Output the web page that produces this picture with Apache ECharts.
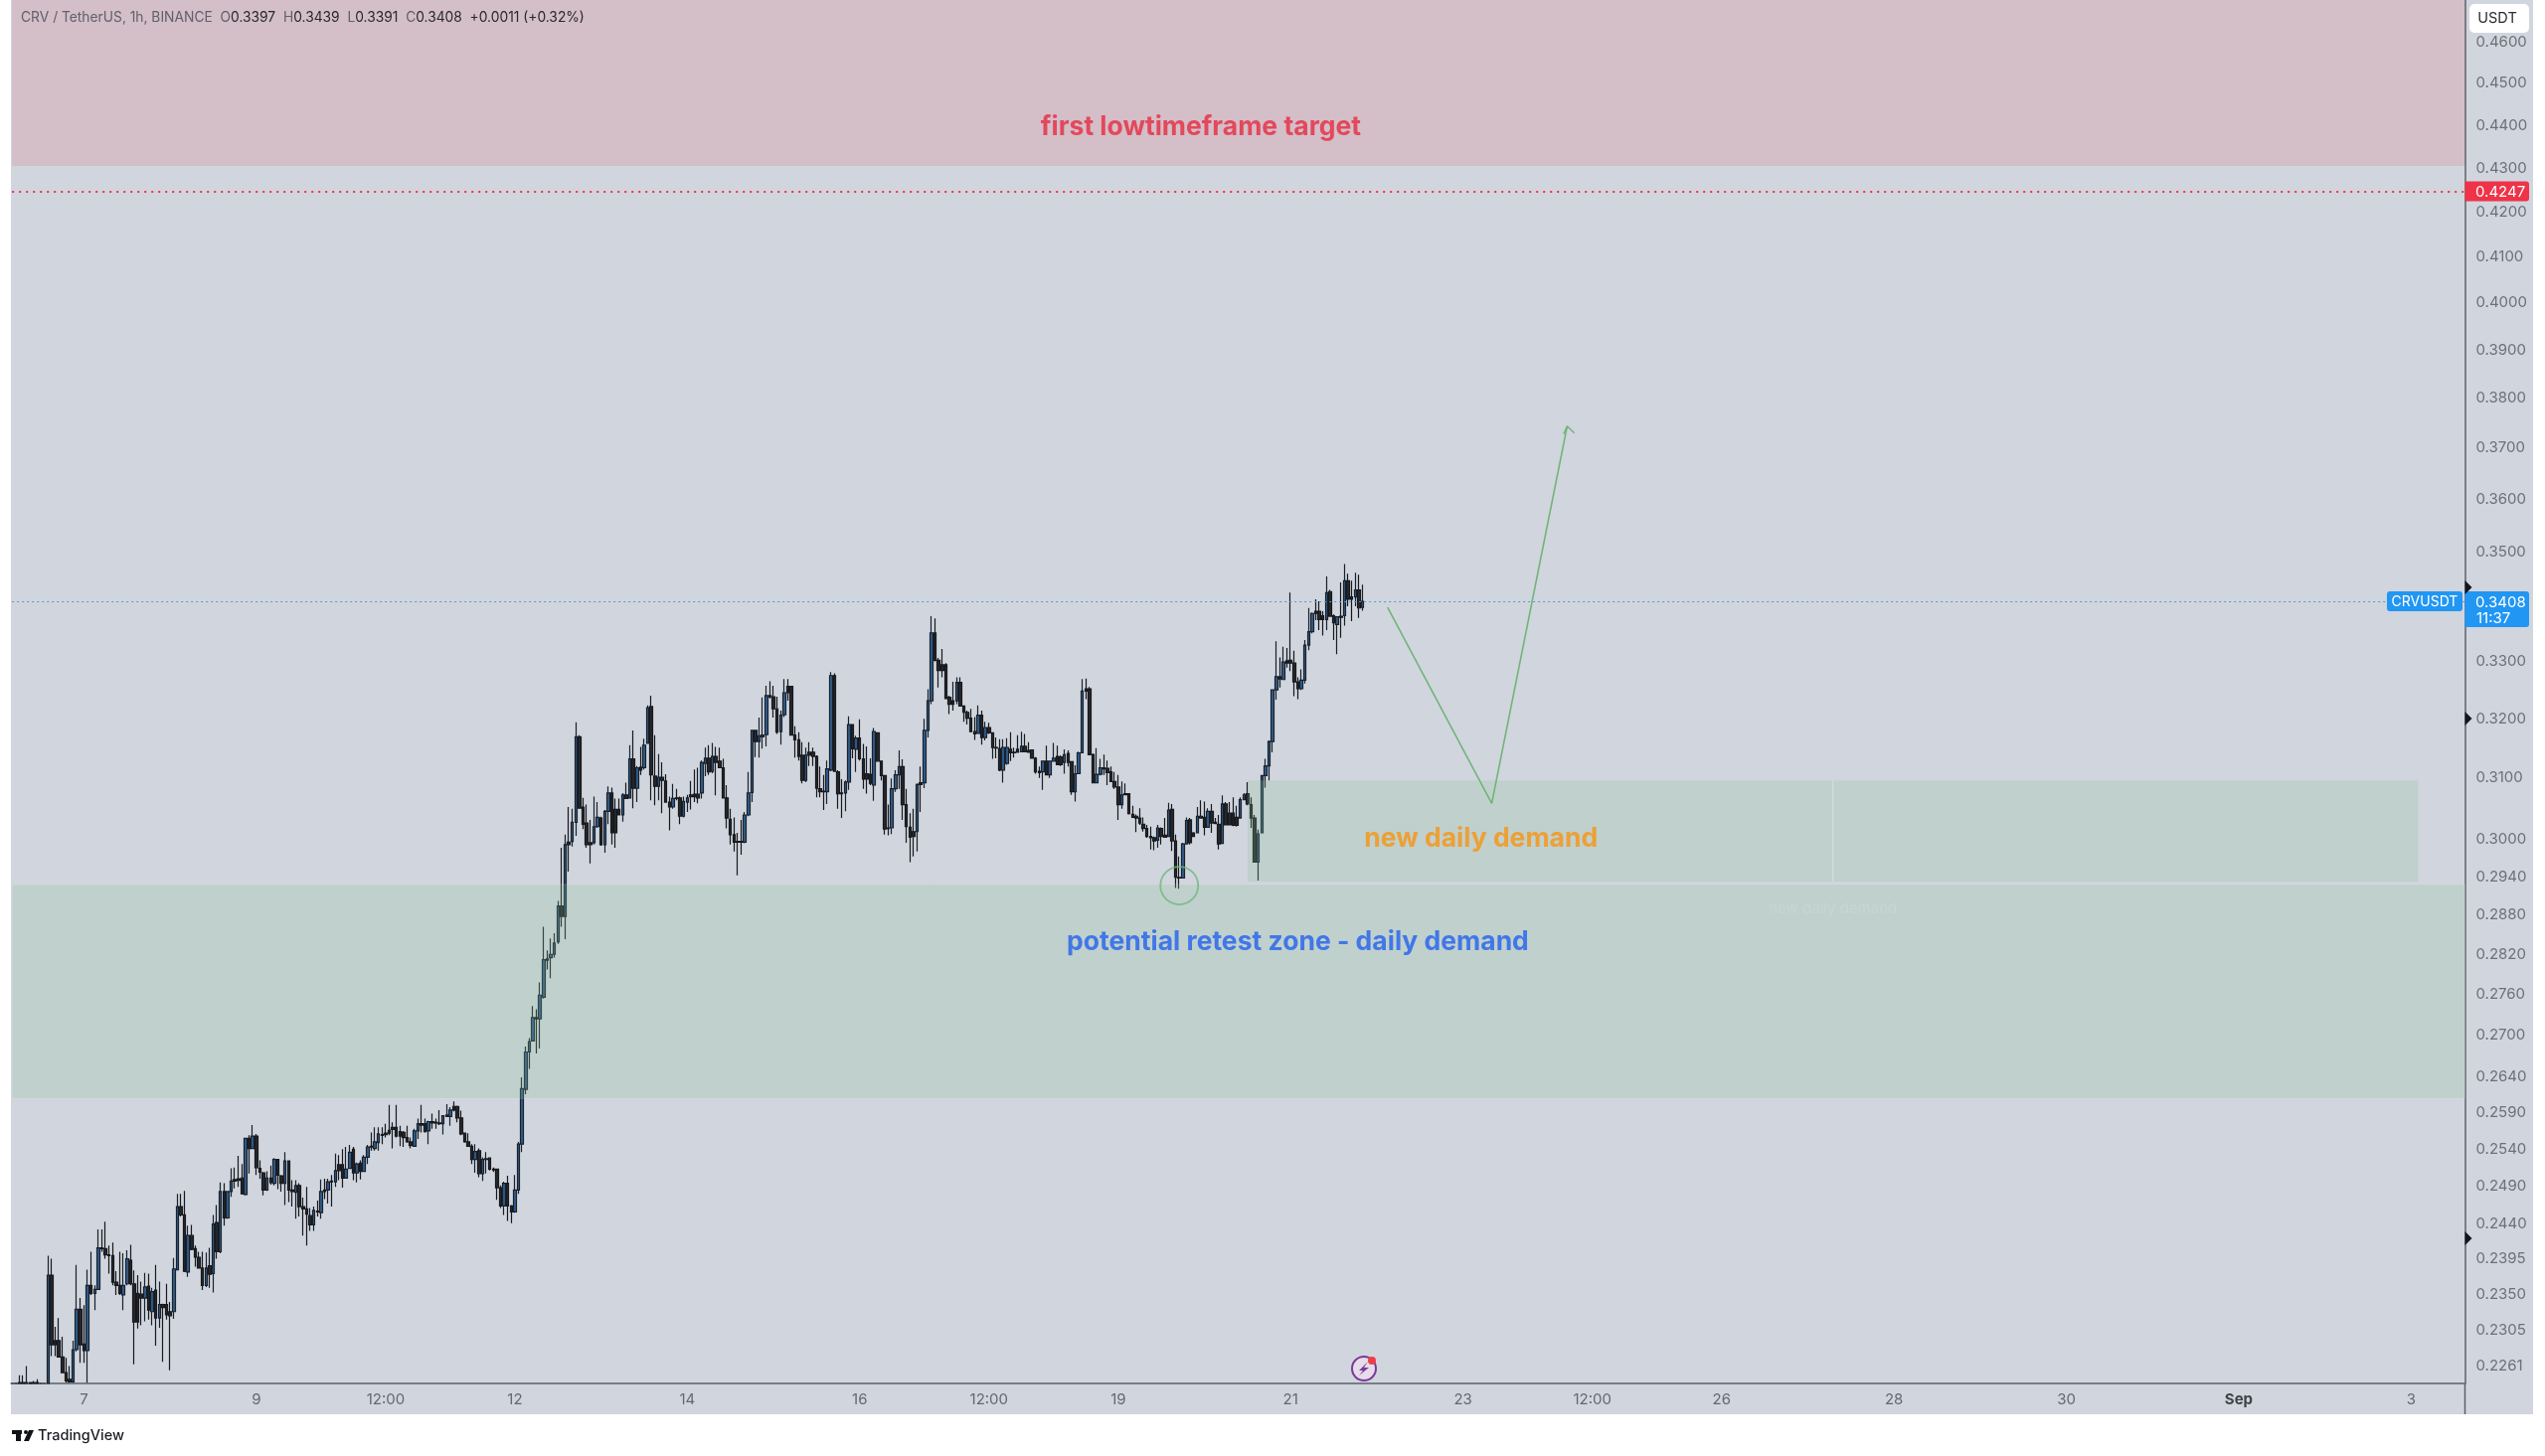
<!DOCTYPE html>
<html><head><meta charset="utf-8">
<style>html,body{margin:0;padding:0;background:#fff}#c{width:2560px;height:1465px}</style>
<script src="https://cdn.jsdelivr.net/npm/echarts@6/dist/echarts.min.js"></script>
</head><body><div id="c"></div>
<script>
// rows: [open, high, low, close] of the hourly candles, one list per calendar day
const aug06=[[.2240,.2240,.2240,.2240],[.2240,.2240,.2240,.2240],[.2240,.2250,.2240,.2241],[.2241,.2250,.2240,.2240],[.2240,.2261,.2240,.2241],[.2241,.2241,.2240,.2240],[.2240,.2243,.2240,.2241],[.2241,.2245,.2240,.2240],[.2240,.2240,.2240,.2240],[.2240,.2240,.2240,.2240],
[.2240,.2399,.2240,.2374],[.2374,.2395,.2273,.2287],[.2292,.2309,.2273,.2287],[.2292,.2320,.2272,.2272],[.2272,.2297,.2253,.2253],[.2253,.2271,.2241,.2243],[.2245,.2261,.2241,.2242],[.2242,.2292,.2241,.2281],[.2281,.2387,.2279,.2331],[.2331,.2345,.2265,.2287]];
const aug07=[[.2288,.2336,.2265,.2280],[.2280,.2381,.2241,.2361],[.2361,.2404,.2349,.2351],[.2351,.2361,.2330,.2356],[.2356,.2433,.2355,.2409],[.2409,.2433,.2404,.2408],[.2408,.2443,.2395,.2400],[.2400,.2412,.2376,.2399],[.2399,.2416,.2361,.2365],[.2365,.2379,.2349,.2361],[.2361,.2404,.2349,.2351],[.2349,.2402,.2330,.2361],[.2363,.2406,.2361,.2395],[.2393,.2413,.2361,.2363],[.2363,.2380,.2263,.2315],[.2351,.2374,.2307,.2315],[.2350,.2366,.2311,.2345],[.2345,.2377,.2316,.2359],[.2360,.2376,.2318,.2330],[.2328,.2358,.2311,.2353],[.2355,.2387,.2286,.2320],[.2320,.2366,.2308,.2337],[.2337,.2338,.2266,.2333],[.2337,.2363,.2318,.2324]];
const aug08=[[.2328,.2340,.2256,.2323],[.2328,.2396,.2319,.2382],[.2381,.2480,.2380,.2463],[.2463,.2480,.2450,.2452],[.2452,.2484,.2378,.2379],[.2378,.2438,.2372,.2425],[.2425,.2439,.2406,.2407],[.2408,.2412,.2385,.2397],[.2397,.2404,.2383,.2383],[.2383,.2404,.2355,.2361],[.2361,.2403,.2359,.2383],[.2386,.2409,.2358,.2375],[.2376,.2452,.2352,.2440],[.2442,.2465,.2395,.2404],[.2404,.2495,.2402,.2483],[.2483,.2494,.2438,.2448],[.2448,.2483,.2447,.2483],[.2483,.2514,.2476,.2497],[.2499,.2515,.2487,.2497],[.2500,.2531,.2489,.2498],[.2501,.2520,.2479,.2480],[.2479,.2555,.2478,.2555],[.2555,.2559,.2507,.2541],[.2541,.2573,.2540,.2558]];
const aug09=[[.2558,.2561,.2505,.2515],[.2514,.2525,.2500,.2509],[.2508,.2509,.2478,.2485],[.2485,.2510,.2484,.2501],[.2501,.2518,.2492,.2495],[.2494,.2528,.2491,.2526],[.2526,.2527,.2486,.2505],[.2504,.2505,.2483,.2494],[.2494,.2536,.2465,.2524],[.2524,.2525,.2469,.2485],[.2485,.2498,.2463,.2483],[.2482,.2498,.2447,.2491],[.2491,.2494,.2450,.2463],[.2463,.2475,.2425,.2460],[.2460,.2489,.2412,.2453],[.2451,.2461,.2431,.2439],[.2439,.2463,.2431,.2458],[.2457,.2471,.2450,.2456],[.2455,.2499,.2447,.2483],[.2485,.2500,.2473,.2483],[.2485,.2500,.2467,.2496],[.2497,.2505,.2463,.2496],[.2496,.2534,.2489,.2511],[.2519,.2532,.2498,.2511]];
const aug10=[[.2519,.2540,.2488,.2501],[.2501,.2543,.2500,.2513],[.2514,.2546,.2513,.2536],[.2540,.2543,.2498,.2508],[.2508,.2522,.2495,.2520],[.2521,.2525,.2499,.2510],[.2510,.2532,.2509,.2529],[.2529,.2546,.2520,.2543],[.2544,.2563,.2538,.2543],[.2541,.2570,.2538,.2550],[.2549,.2570,.2538,.2561],[.2560,.2570,.2547,.2559],[.2562,.2575,.2556,.2560],[.2566,.2601,.2559,.2562],[.2570,.2577,.2541,.2567],[.2570,.2601,.2556,.2558],[.2564,.2572,.2544,.2558],[.2563,.2565,.2543,.2556],[.2556,.2572,.2549,.2550],[.2550,.2556,.2541,.2545],[.2544,.2568,.2543,.2565],[.2565,.2582,.2554,.2575],[.2575,.2601,.2563,.2573],[.2575,.2582,.2563,.2564]];
const aug11=[[.2565,.2579,.2547,.2578],[.2578,.2589,.2568,.2576],[.2577,.2582,.2568,.2576],[.2576,.2594,.2573,.2575],[.2575,.2586,.2560,.2586],[.2585,.2602,.2584,.2587],[.2585,.2598,.2572,.2594],[.2599,.2606,.2592,.2594],[.2599,.2600,.2577,.2583],[.2583,.2593,.2559,.2561],[.2562,.2563,.2549,.2550],[.2550,.2562,.2543,.2544],[.2544,.2547,.2520,.2526],[.2526,.2547,.2508,.2537],[.2538,.2541,.2502,.2507],[.2507,.2529,.2497,.2526],[.2526,.2536,.2507,.2527],[.2528,.2529,.2511,.2513],[.2513,.2515,.2509,.2512],[.2513,.2513,.2472,.2488],[.2488,.2491,.2461,.2464],[.2464,.2496,.2452,.2494],[.2494,.2504,.2444,.2464],[.2464,.2465,.2441,.2456]];
const aug12=[[.2456,.2505,.2455,.2485],[.2485,.2550,.2480,.2547],[.2547,.2640,.2536,.2624],[.2623,.2684,.2616,.2676],[.2676,.2696,.2652,.2691],[.2692,.2743,.2691,.2726],[.2726,.2738,.2674,.2724],[.2724,.2778,.2681,.2759],[.2756,.2862,.2754,.2812],[.2813,.2826,.2797,.2811],[.2815,.2844,.2784,.2820],[.2820,.2852,.2815,.2837],[.2839,.2902,.2836,.2894],[.2894,.2986,.2862,.2878],[.2878,.3007,.2843,.2991],[.2995,.3052,.2948,.2991],[.2996,.3049,.2988,.3027],[.3027,.3194,.3005,.3169],[.3169,.3172,.3049,.3050],[.3052,.3067,.3016,.3024],[.3026,.3056,.2986,.2991],[.2994,.3031,.2961,.2991],[.2994,.3069,.2991,.3020],[.3020,.3060,.3018,.3035]];
const aug13=[[.3034,.3036,.2989,.2991],[.2991,.3047,.2978,.3045],[.3045,.3086,.3024,.3075],[.3075,.3084,.2991,.3010],[.3048,.3066,.2986,.3010],[.3048,.3066,.3038,.3039],[.3039,.3075,.3028,.3072],[.3072,.3092,.3065,.3066],[.3067,.3155,.3066,.3132],[.3132,.3180,.3050,.3083],[.3083,.3120,.3060,.3117],[.3118,.3152,.3105,.3113],[.3117,.3166,.3114,.3155],[.3158,.3223,.3157,.3219],[.3221,.3240,.3063,.3105],[.3103,.3172,.3055,.3086],[.3086,.3140,.3063,.3101],[.3101,.3126,.3042,.3096],[.3095,.3106,.3059,.3060],[.3060,.3069,.3014,.3052],[.3052,.3090,.3049,.3066],[.3067,.3082,.3063,.3066],[.3067,.3069,.3024,.3037],[.3037,.3069,.3035,.3061]];
const aug14=[[.3060,.3072,.3044,.3067],[.3072,.3095,.3048,.3069],[.3073,.3114,.3060,.3069],[.3073,.3117,.3058,.3067],[.3075,.3129,.3066,.3126],[.3124,.3151,.3103,.3133],[.3133,.3155,.3105,.3110],[.3111,.3159,.3108,.3136],[.3136,.3152,.3071,.3126],[.3128,.3151,.3116,.3117],[.3117,.3132,.3066,.3067],[.3067,.3088,.3017,.3034],[.3032,.3049,.2991,.3007],[.3007,.3035,.2980,.2995],[.2996,.3010,.2942,.2995],[.2996,.3031,.2975,.2995],[.2995,.3044,.2993,.3039],[.3039,.3110,.3037,.3075],[.3076,.3181,.3060,.3180],[.3180,.3181,.3135,.3161],[.3161,.3202,.3134,.3171],[.3169,.3237,.3149,.3172],[.3173,.3257,.3153,.3240],[.3240,.3265,.3235,.3238]];
const aug15=[[.3238,.3257,.3202,.3217],[.3217,.3238,.3174,.3177],[.3178,.3214,.3156,.3206],[.3207,.3269,.3203,.3245],[.3256,.3269,.3231,.3245],[.3256,.3257,.3171,.3172],[.3172,.3187,.3134,.3164],[.3164,.3177,.3129,.3136],[.3138,.3160,.3091,.3096],[.3096,.3151,.3093,.3138],[.3143,.3160,.3120,.3138],[.3143,.3151,.3120,.3136],[.3136,.3138,.3068,.3083],[.3082,.3119,.3068,.3077],[.3078,.3105,.3047,.3077],[.3077,.3129,.3057,.3115],[.3113,.3281,.3111,.3275],[.3275,.3279,.3110,.3111],[.3110,.3113,.3049,.3074],[.3075,.3098,.3034,.3074],[.3075,.3096,.3045,.3093],[.3093,.3204,.3080,.3190],[.3190,.3191,.3133,.3149],[.3148,.3171,.3110,.3167]];
const aug16=[[.3167,.3199,.3129,.3132],[.3132,.3157,.3082,.3098],[.3107,.3153,.3074,.3098],[.3106,.3133,.3088,.3091],[.3088,.3184,.3062,.3178],[.3176,.3177,.3127,.3128],[.3128,.3129,.3096,.3104],[.3104,.3105,.3007,.3016],[.3018,.3056,.3006,.3017],[.3018,.3099,.3008,.3082],[.3082,.3113,.3077,.3105],[.3105,.3146,.3082,.3119],[.3119,.3131,.3031,.3056],[.3056,.3082,.2994,.3020],[.3019,.3042,.2963,.3003],[.3012,.3049,.2972,.3004],[.3012,.3091,.2980,.3089],[.3092,.3119,.3044,.3089],[.3092,.3200,.3083,.3180],[.3180,.3251,.3168,.3231],[.3231,.3381,.3225,.3351],[.3351,.3377,.3300,.3302],[.3302,.3306,.3254,.3284],[.3294,.3322,.3272,.3284]];
const aug17=[[.3294,.3297,.3234,.3235],[.3237,.3240,.3208,.3225],[.3231,.3264,.3214,.3225],[.3231,.3272,.3225,.3263],[.3263,.3272,.3221,.3222],[.3222,.3223,.3195,.3211],[.3211,.3214,.3190,.3201],[.3201,.3217,.3177,.3178],[.3178,.3203,.3164,.3174],[.3175,.3223,.3174,.3206],[.3206,.3214,.3156,.3168],[.3168,.3195,.3163,.3185],[.3185,.3193,.3174,.3176],[.3176,.3177,.3132,.3151],[.3151,.3168,.3133,.3150],[.3149,.3165,.3111,.3113],[.3113,.3165,.3092,.3151],[.3124,.3167,.3122,.3151],[.3148,.3177,.3128,.3142],[.3143,.3151,.3134,.3142],[.3148,.3172,.3142,.3143],[.3144,.3178,.3143,.3153],[.3153,.3174,.3143,.3144],[.3146,.3160,.3142,.3143]];
const aug18=[[.3147,.3148,.3132,.3133],[.3133,.3135,.3107,.3110],[.3111,.3119,.3100,.3109],[.3110,.3129,.3080,.3128],[.3128,.3154,.3104,.3105],[.3105,.3129,.3100,.3128],[.3128,.3159,.3127,.3133],[.3136,.3154,.3121,.3122],[.3135,.3138,.3120,.3122],[.3126,.3148,.3107,.3139],[.3141,.3146,.3119,.3126],[.3127,.3128,.3072,.3077],[.3077,.3121,.3061,.3107],[.3107,.3144,.3106,.3142],[.3142,.3269,.3141,.3248],[.3252,.3270,.3234,.3248],[.3252,.3255,.3138,.3139],[.3139,.3141,.3091,.3092],[.3092,.3150,.3091,.3106],[.3106,.3132,.3104,.3117],[.3117,.3139,.3105,.3115],[.3116,.3129,.3088,.3109],[.3110,.3119,.3093,.3094],[.3094,.3110,.3082,.3085]];
const aug19=[[.3085,.3105,.3031,.3056],[.3056,.3094,.3049,.3072],[.3074,.3091,.3071,.3072],[.3074,.3075,.3040,.3041],[.3040,.3054,.3034,.3035],[.3037,.3040,.3011,.3034],[.3034,.3050,.3023,.3026],[.3024,.3035,.3012,.3017],[.3017,.3023,.3002,.3004],[.3004,.3020,.2983,.3002],[.3002,.3004,.2982,.2997],[.2998,.3023,.2986,.3018],[.3017,.3019,.2991,.3004],[.3006,.3034,.3002,.3003],[.3004,.3059,.3003,.3047],[.3048,.3057,.2981,.2997],[.2997,.3007,.2922,.2939],[.2939,.2972,.2921,.2938],[.2938,.2994,.2937,.2992],[.2992,.3035,.2991,.3030],[.3031,.3034,.2991,.2994],[.3010,.3011,.3003,.3004],[.3010,.3052,.3009,.3037],[.3037,.3063,.3034,.3034]];
const aug20=[[.3035,.3061,.3006,.3019],[.3019,.3050,.3018,.3045],[.3045,.3057,.3010,.3026],[.3027,.3034,.3024,.3025],[.3024,.3039,.2983,.2992],[.2993,.3071,.2992,.3057],[.3057,.3060,.3022,.3023],[.3042,.3060,.3022,.3023],[.3042,.3068,.3021,.3022],[.3035,.3054,.3020,.3022],[.3034,.3068,.3033,.3064],[.3064,.3075,.3063,.3072],[.3074,.3093,.3055,.3057],[.3056,.3068,.3018,.3034],[.3034,.3039,.2962,.2963],[.2963,.3015,.2934,.3008],[.3010,.3105,.3009,.3104],[.3104,.3132,.3084,.3120],[.3120,.3163,.3096,.3161],[.3161,.3251,.3143,.3250],[.3250,.3336,.3233,.3273],[.3273,.3307,.3254,.3269],[.3268,.3326,.3267,.3299],[.3301,.3324,.3289,.3297]];
const aug21=[[.3302,.3424,.3283,.3297],[.3297,.3319,.3239,.3264],[.3264,.3272,.3234,.3252],[.3252,.3286,.3250,.3267],[.3267,.3338,.3261,.3329],[.3329,.3396,.3320,.3353],[.3353,.3388,.3350,.3386],[.3390,.3412,.3374,.3386],[.3390,.3408,.3356,.3375],[.3382,.3390,.3346,.3375],[.3375,.3454,.3356,.3424],[.3426,.3429,.3380,.3381],[.3382,.3384,.3338,.3369],[.3366,.3381,.3313,.3380],[.3381,.3443,.3342,.3379],[.3382,.3477,.3364,.3446],[.3446,.3459,.3399,.3412],[.3416,.3446,.3372,.3412],[.3416,.3461,.3399,.3429],[.3429,.3457,.3378,.3396],[.3397,.3439,.3391,.3408]];
const candleDays=[aug06,aug07,aug08,aug09,aug10,aug11,aug12,aug13,aug14,aug15,aug16,aug17,aug18,aug19,aug20,aug21];

// price scale
const priceMin=.2240, priceMax=.4706;
const priceTicks=[.46,.45,.44,.43,.42,.41,.40,.39,.38,.37,.36,.35,.33,.32,.31,.30,.294,.288,.282,.276,.27,.264,.259,.254,.249,.244,.2395,.235,.2305,.2261];
// time scale: one category per hour starting 6 Aug 04:00
const hourCount=684;
const timeTickHours=[20,68,104,140,188,236,272,308,356,404,440,476,524,572,620,668];
const timeTickLabels=['7','9','12:00','12','14','16','12:00','19','21','23','12:00','26','28','30','Sep','3'];
// levels and zones
const lastPrice=.3408, targetPrice=.4247;
const redZone=[.4706,.4305], retestZone=[.2928,.2610], newDemandZone=[.3096,.2932], newDemandHours=[344,670];
// drawn projection
const projection=[[382.6,.3397],[412,.3058],[433.3,.3744]];
const projectionHead=[[431.9,.3728],[433.3,.3744],[435,.3730]];
const retestCircle=[325.3,.2926];
const notes=[
 {text:'first lowtimeframe target',at:[331,.4396],color:'#e62a40'},
 {text:'new daily demand',at:[409,.3000],color:'#f7930f'},
 {text:'potential retest zone - daily demand',at:[358,.2838],color:'#2160ee'},
 {text:'new daily demand',at:[507,.2890],color:'rgba(255,255,255,.16)',size:15,weight:400}];

const categories=Array.from({length:hourCount},(_,i)=>'h'+i);
const rows=candleDays.flat();
const candleData=rows.map(r=>[r[0],r[3],r[2],r[1]]);
const tickMap={};timeTickHours.forEach((h,i)=>tickMap['h'+h]=timeTickLabels[i]);
const FONT='Inter, "Liberation Sans", sans-serif';

const chart=echarts.init(document.getElementById('c'),null,{renderer:'canvas'});
chart.setOption({
 animation:false,
 backgroundColor:'#ffffff',
 grid:{left:12.2,width:2467.3,top:0,height:1392,containLabel:false},
 xAxis:{type:'category',data:categories,boundaryGap:false,
  axisLine:{show:true,lineStyle:{color:'#5c6068',width:1.5}},axisTick:{show:false},splitLine:{show:false},
  axisLabel:{interval:(i,v)=>tickMap[v]!==undefined,formatter:v=>v==='h620'?'{b|Sep}':(tickMap[v]||''),color:'#646870',fontSize:15,fontFamily:FONT,margin:9,
   rich:{b:{fontWeight:'bold',color:'#3f4248',fontSize:15,fontFamily:FONT}}}},
 yAxis:{type:'log',position:'right',min:priceMin,max:priceMax,logBase:10,
  axisLine:{show:true,onZero:false,lineStyle:{color:'#5c6068',width:1.5}},axisTick:{show:false},splitLine:{show:false},minorTick:{show:false},minorSplitLine:{show:false},
  axisLabel:{customValues:priceTicks,formatter:v=>Number(v).toFixed(4),color:'#6d7078',fontSize:15,fontFamily:FONT,margin:11,padding:[2,0,0,0],showMinLabel:true,showMaxLabel:true,hideOverlap:false}},
 series:[
  {type:'candlestick',name:'CRVUSDT',data:candleData,barWidth:3,clip:true,z:3,
   itemStyle:{color:'#2f5f90',color0:'#26282d',borderColor:'#1a212b',borderColor0:'#17191d',borderWidth:1.2,opacity:1},
   markArea:{silent:true,z:6,itemStyle:{color:'rgba(235,60,75,.15)'},label:{show:false},data:[
     [{yAxis:redZone[0],xAxis:0},{yAxis:redZone[1],xAxis:hourCount-1}],
     [{yAxis:retestZone[0],xAxis:0,itemStyle:{color:'rgba(140,195,150,.23)',borderColor:'rgba(255,255,255,.14)',borderWidth:1}},{yAxis:retestZone[1],xAxis:hourCount-1}],
     [{yAxis:newDemandZone[0],xAxis:newDemandHours[0],itemStyle:{color:'rgba(140,195,150,.23)'}},{yAxis:newDemandZone[1],xAxis:newDemandHours[1]}]
   ]},
   markLine:{silent:true,symbol:'none',z:7,precision:4,label:{show:false},animation:false,data:[
     {yAxis:targetPrice,lineStyle:{color:'#ef3349',type:[2,5],width:2}},
     {yAxis:lastPrice,lineStyle:{color:'#4f97d8',type:[2,3],width:1}}
   ]}},
  {type:'line',name:'projection',data:projection,symbol:'none',z:8,silent:true,lineStyle:{color:'#6fb577',width:1.6}},
  {type:'line',name:'projectionHead',data:projectionHead,symbol:'none',z:8,silent:true,lineStyle:{color:'#6fb577',width:1.4}},
  {type:'scatter',name:'retest',data:[retestCircle],symbol:'circle',symbolSize:38,z:8,silent:true,itemStyle:{color:'rgba(0,0,0,0)',borderColor:'#6db87a',borderWidth:1.8}},
  {type:'scatter',name:'notes',symbolSize:0,z:9,silent:true,
   data:notes.map(n=>({value:n.at,label:{show:true,position:'inside',formatter:n.text,color:n.color,fontSize:n.size||26.5,fontWeight:n.weight||700,fontFamily:FONT}}))}
 ]
});

function drawOverlays(){
 const py=p=>chart.convertToPixel({yAxisIndex:0},p);
 const px=h=>chart.convertToPixel({xAxisIndex:0},h);
 const yLast=py(lastPrice), yTarget=py(targetPrice), axisX=2479.5;
 const els=[
  {type:'rect',z:-10,silent:true,shape:{x:11,y:0,width:2537,height:1423},style:{fill:'#d1d5de'}},
  {type:'line',z:20,silent:true,shape:{x1:axisX,y1:1392,x2:axisX,y2:1423},style:{stroke:'#5c6068',lineWidth:1.5}},
  {type:'line',z:20,silent:true,shape:{x1:px(507),y1:py(newDemandZone[0]),x2:px(507),y2:py(newDemandZone[1])},style:{stroke:'rgba(255,255,255,.25)',lineWidth:1.5}},
  {type:'rect',z:20,silent:true,shape:{x:2484,y:4,width:60,height:29,r:5},style:{fill:'#ffffff'}},
  {type:'text',z:21,silent:true,style:{x:2512,y:18.5,text:'USDT',fill:'#2a2c31',fontSize:14.5,fontFamily:FONT,align:'center',verticalAlign:'middle'}},
  {type:'rect',z:20,silent:true,shape:{x:axisX,y:yTarget-10,width:64.5,height:20,r:[0,3,3,0]},style:{fill:'#ef3349'}},
  {type:'text',z:21,silent:true,style:{x:2490,y:yTarget+1,text:targetPrice.toFixed(4),fill:'#ffffff',fontSize:15,fontFamily:FONT,verticalAlign:'middle'}},
  {type:'rect',z:20,silent:true,shape:{x:axisX,y:yLast-10,width:64.5,height:36,r:[0,3,3,0]},style:{fill:'#2196f3'}},
  {type:'text',z:21,silent:true,style:{x:2490,y:yLast+1,text:lastPrice.toFixed(4),fill:'#ffffff',fontSize:15,fontFamily:FONT,verticalAlign:'middle'}},
  {type:'text',z:21,silent:true,style:{x:2491,y:yLast+17,text:'11:37',fill:'#ffffff',fontSize:15,fontFamily:FONT,verticalAlign:'middle'}},
  {type:'rect',z:20,silent:true,shape:{x:2401,y:yLast-10,width:76,height:20,r:3},style:{fill:'#2196f3'}},
  {type:'text',z:21,silent:true,style:{x:2439,y:yLast+0.5,text:'CRVUSDT',fill:'#ffffff',fontSize:14,fontFamily:FONT,align:'center',verticalAlign:'middle'}},
  // session markers on the price scale
  ...[591,723,1246].map(y=>({type:'polygon',z:21,silent:true,shape:{points:[[axisX,y-7],[axisX+7,y],[axisX,y+7]]},style:{fill:'#13161c'}})),
  // header line
  {type:'text',z:21,silent:true,style:{x:21,y:18,verticalAlign:'middle',text:'{g|CRV / TetherUS, 1h, BINANCE  O}{d|0.3397}{g|  H}{d|0.3439}{g|  L}{d|0.3391}{g|  C}{d|0.3408}{d|  +0.0011 (+0.32%)}',
    rich:{g:{fill:'#5f616a',fontSize:13.8,fontFamily:FONT},d:{fill:'#26282d',fontSize:13.8,fontFamily:FONT}}}},
  // event badge
  {type:'circle',z:21,silent:true,shape:{cx:1372,cy:1377,r:12},style:{fill:'#e6dcea',stroke:'#7a3a96',lineWidth:2}},
  {type:'polygon',z:22,silent:true,shape:{points:[[1376,1370],[1367,1379],[1371,1379],[1367,1384],[1377,1376],[1372,1376]]},style:{fill:'#7a3a96'}},
  {type:'circle',z:23,silent:true,shape:{cx:1380,cy:1369,r:4},style:{fill:'#ee3f46'}},
  // TradingView mark
  {type:'rect',z:21,silent:true,shape:{x:12,y:1439,width:10,height:4},style:{fill:'#111318'}},
  {type:'rect',z:21,silent:true,shape:{x:16,y:1439,width:5,height:11},style:{fill:'#111318'}},
  {type:'circle',z:21,silent:true,shape:{cx:26,cy:1441,r:2},style:{fill:'#111318'}},
  {type:'polygon',z:21,silent:true,shape:{points:[[29,1439],[34,1439],[29,1450],[24,1450]]},style:{fill:'#111318'}},
  {type:'text',z:21,silent:true,style:{x:38,y:1444.5,text:'TradingView',fill:'#1a1c21',fontSize:14.5,fontWeight:500,fontFamily:FONT,verticalAlign:'middle'}}
 ];
 chart.setOption({graphic:{elements:els}});
}
drawOverlays();
</script></body></html>
